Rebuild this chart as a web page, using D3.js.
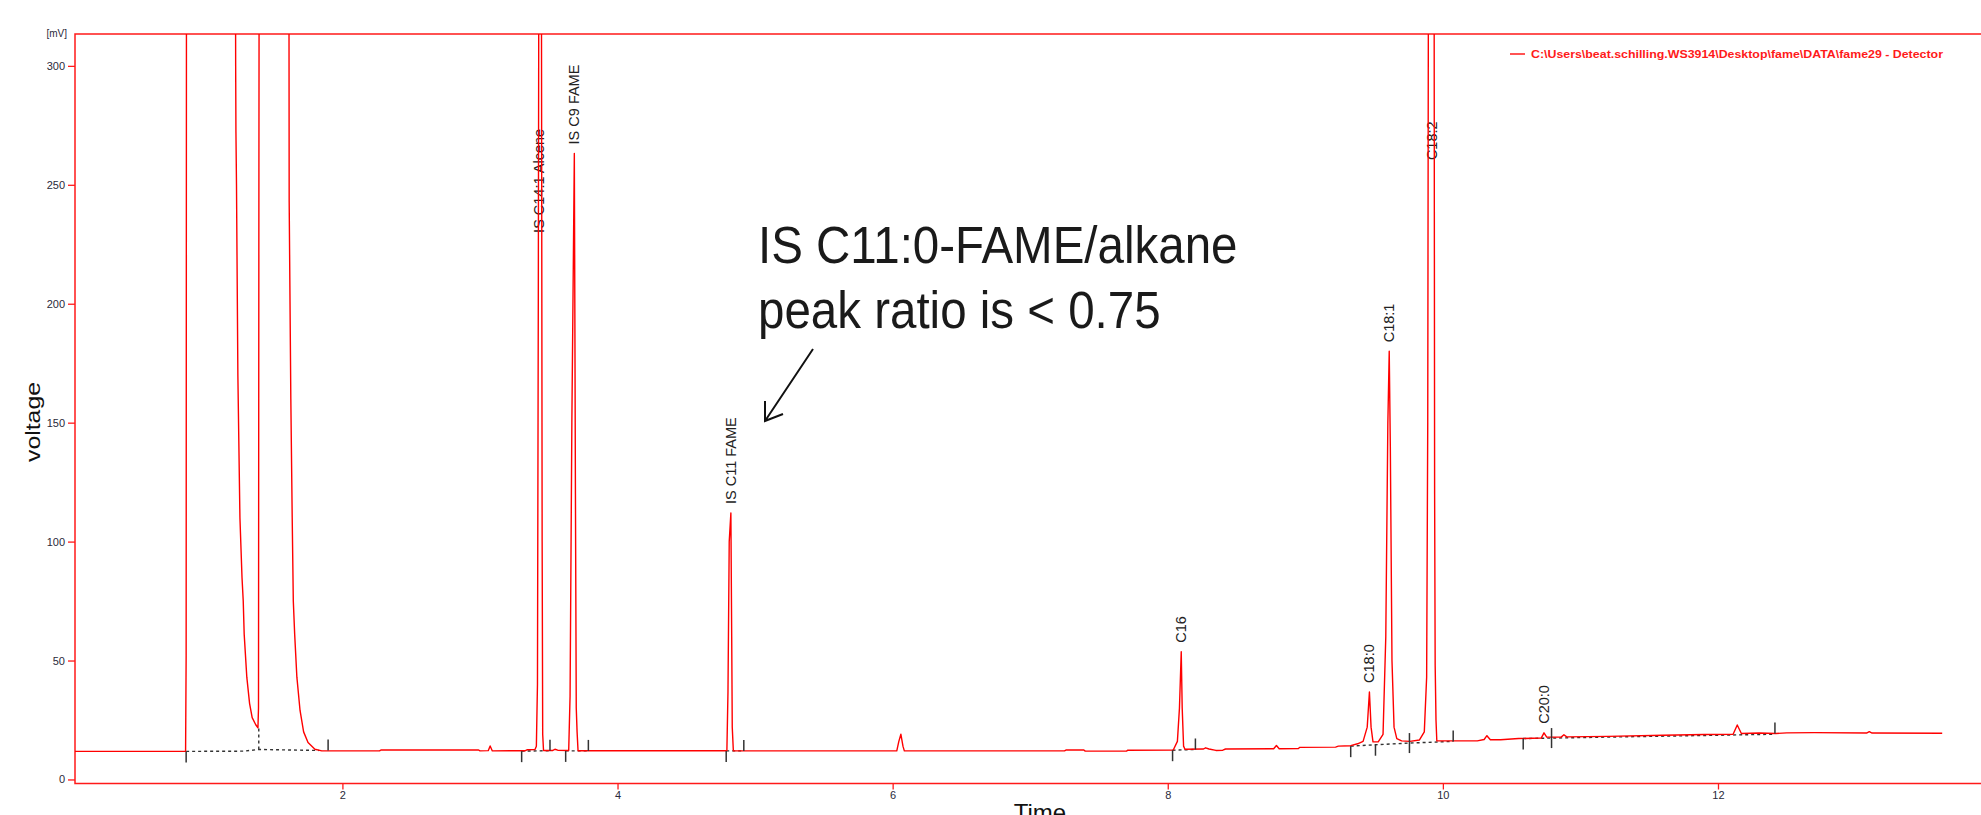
<!DOCTYPE html>
<html>
<head>
<meta charset="utf-8">
<script src="https://cdn.jsdelivr.net/npm/d3@7"></script>
<style>
  body { margin: 0; background: #fff; }
  svg { display: block; font-family: "Liberation Sans", Arial, sans-serif; }
</style>
</head>
<body>
<div id="chart"></div>
<script>
// detector trace (off-scale parts set above the axis top)
const timeMin = [
  0.056, 0.860, 0.864, 0.867, 1.220, 1.224, 1.226, 1.230, 1.240, 1.255,
  1.270, 1.279, 1.286, 1.305, 1.325, 1.344, 1.370, 1.386, 1.390, 1.393,
  1.396, 1.610, 1.613, 1.625, 1.635, 1.643, 1.653, 1.669, 1.692, 1.718,
  1.750, 1.800, 1.850, 2.270, 2.280, 2.990, 3.000, 3.060, 3.074, 3.090,
  3.330, 3.345, 3.400, 3.410, 3.418, 3.424, 3.430, 3.445, 3.452, 3.456,
  3.462, 3.530, 3.545, 3.565, 3.645, 3.655, 3.668, 3.686, 3.694, 3.700,
  3.706, 3.713, 4.795, 4.803, 4.812, 4.824, 4.830, 4.834, 4.842, 6.030,
  6.045, 6.060, 6.075, 6.085, 7.250, 7.260, 7.390, 7.400, 7.700, 7.710,
  8.040, 8.070, 8.085, 8.098, 8.105, 8.115, 8.125, 8.260, 8.275, 8.300,
  8.350, 8.400, 8.420, 8.770, 8.790, 8.810, 8.950, 8.960, 9.220, 9.240,
  9.330, 9.380, 9.420, 9.450, 9.466, 9.478, 9.492, 9.530, 9.565, 9.585,
  9.600, 9.610, 9.618, 9.630, 9.645, 9.665, 9.700, 9.760, 9.830, 9.865,
  9.882, 9.890, 9.897, 9.935, 9.940, 9.944, 9.950, 9.956, 10.250, 10.300,
  10.320, 10.345, 10.420, 10.550, 10.715, 10.735, 10.755, 10.860, 10.880, 10.900,
  11.200, 11.600, 11.900, 12.110, 12.140, 12.170, 12.300, 12.420, 12.500, 12.700,
  13.080, 13.100, 13.120, 13.630
];
const voltageMV = [
  11.8, 11.8, 52, 420, 420, 300, 272, 250, 170, 110,
  85, 75, 61, 43, 32, 26, 23, 21.7, 30, 256,
  420, 420, 243, 160, 110, 75, 61, 43, 29, 20,
  15.5, 12.7, 12.0, 12.0, 12.4, 12.4, 12.0, 12.1, 14.1, 12.0,
  12.1, 12.5, 12.6, 14, 40, 200, 420, 420, 100, 19,
  12.2, 12.2, 12.7, 12.3, 12.2, 35, 150, 263.2, 120, 30,
  20, 12.1, 12.1, 37, 100, 112, 60, 22, 12.0, 12.0,
  16, 19, 14, 12.0, 12.0, 12.4, 12.4, 11.9, 11.9, 12.3,
  12.4, 16, 30, 53.7, 30, 14, 12.7, 12.8, 13.3, 12.8,
  12.2, 12.3, 12.8, 12.9, 14.3, 12.9, 13.0, 13.5, 13.6, 14.0,
  14.2, 15.0, 16.0, 22, 36.8, 22, 15.8, 15.8, 19, 60,
  150, 180, 140, 50, 22, 17.2, 16.2, 16.0, 16.6, 20,
  43, 150, 420, 420, 120, 48, 25, 16.2, 16.2, 16.8,
  18.4, 16.7, 16.7, 17.2, 17.4, 19.6, 17.8, 17.8, 18.8, 17.9,
  18.1, 18.6, 18.9, 19.0, 22.9, 19.3, 19.5, 19.3, 19.6, 19.7,
  19.5, 20.1, 19.5, 19.4
];

// peak names and where the software put them
const peakNames = ["IS C14:1 Alcene", "IS C9 FAME", "IS C11 FAME", "C16", "C18:0", "C18:1", "C18:2", "C20:0"];
const peakTimes = [3.431, 3.686, 4.824, 8.098, 9.466, 9.610, 9.923, 10.735];
const peakLabelMV = [226, 263.2, 112, 53.7, 36.8, 180, 256.6, 19.6];

// integration marks (peak start / peak end / split)
const startMarkTimes = [0.864, 3.303, 3.623, 4.790, 8.035, 9.330, 9.510, 10.584];
const startMarkMV = [11.8, 11.9, 12.0, 12.0, 12.3, 14.0, 14.6, 17.2];
const endMarkTimes = [1.896, 3.509, 3.788, 4.918, 8.201, 10.075, 12.414];
const endMarkMV = [12.2, 12.1, 12.0, 12.0, 12.6, 16.0, 19.3];
const splitMarkTimes = [9.757, 10.790];
const splitMarkMV = [15.3, 17.4];

// dotted integration baselines
const baseSegTimes = [
  [0.864, 1.280, 1.392, 1.830],
  [3.303, 3.509],
  [3.623, 3.788],
  [4.790, 4.918],
  [8.035, 8.201],
  [9.330, 9.510, 9.757, 10.075],
  [10.584, 10.790, 12.414]
];
const baseSegMV = [
  [11.8, 11.9, 12.6, 12.2],
  [11.9, 12.1],
  [12.0, 12.0],
  [12.0, 12.0],
  [12.3, 12.6],
  [14.0, 14.6, 15.3, 16.0],
  [17.2, 17.4, 19.0]
];
const dropLineTime = 1.392;
const dropLineMV = [12.6, 21.7];

const xTicks = [2, 4, 6, 8, 10, 12];
const yTicks = [0, 50, 100, 150, 200, 250, 300];

const legendText = "C:\\Users\\beat.schilling.WS3914\\Desktop\\fame\\DATA\\fame29 - Detector";
const noteLines = ["IS C11:0-FAME/alkane", "peak ratio is < 0.75"];

const width = 1981, height = 815;
const plotLeft = 75, plotTop = 34, plotRight = 1981, plotBottom = 783.5;
const red = "#ff1a1a";

const x = d3.scaleLinear().domain([0.056, 13.912]).range([plotLeft, plotRight]);
const y = d3.scaleLinear().domain([-1.7, 313.4]).range([plotBottom, plotTop]);

const svg = d3.select("#chart").append("svg")
  .attr("width", width)
  .attr("height", height);

svg.append("clipPath").attr("id", "plotClip")
  .append("rect")
  .attr("x", plotLeft).attr("y", plotTop)
  .attr("width", plotRight - plotLeft).attr("height", plotBottom - plotTop);

// axes
const yAxis = svg.append("g")
  .attr("transform", `translate(${plotLeft},0)`)
  .call(d3.axisLeft(y).tickValues(yTicks).tickSize(7).tickPadding(3));
const xAxis = svg.append("g")
  .attr("transform", `translate(0,${plotBottom})`)
  .call(d3.axisBottom(x).tickValues(xTicks).tickSize(6).tickPadding(2));

[yAxis, xAxis].forEach(a => {
  a.select(".domain").remove();
  a.selectAll(".tick line").attr("stroke", red).attr("stroke-width", 1.3);
  a.selectAll(".tick text")
    .attr("fill", "#2a2a3a")
    .style("font-size", "11px")
    .style("font-family", "'Liberation Sans', Arial, sans-serif");
});

// frame
svg.append("path")
  .attr("d", `M${plotRight + 2},${plotTop}H${plotLeft}V${plotBottom}H${plotRight + 2}`)
  .attr("fill", "none")
  .attr("stroke", red)
  .attr("stroke-width", 1.5);

svg.append("text")
  .attr("x", 67).attr("y", 37)
  .attr("text-anchor", "end")
  .attr("fill", "#2a2a3a")
  .style("font-size", "10px")
  .text("[mV]");

// peak labels, drawn under the trace
svg.append("g").selectAll("text")
  .data(peakNames)
  .join("text")
  .attr("transform", (d, i) => `translate(${x(peakTimes[i])},${y(peakLabelMV[i]) - 9}) rotate(-90)`)
  .attr("dy", "0.35em")
  .attr("fill", "#222")
  .style("font-size", "14.5px")
  .text(d => d);

const plot = svg.append("g").attr("clip-path", "url(#plotClip)");

const line = d3.line()
  .x(d => x(d[0]))
  .y(d => y(d[1]));

// dotted baselines
plot.append("g").selectAll("path")
  .data(baseSegTimes.map((ts, i) => ts.map((t, j) => [t, baseSegMV[i][j]])))
  .join("path")
  .attr("d", line)
  .attr("fill", "none")
  .attr("stroke", "#333")
  .attr("stroke-width", 1.4)
  .attr("stroke-dasharray", "3,3");

plot.append("path")
  .attr("d", line([[dropLineTime, dropLineMV[0]], [dropLineTime, dropLineMV[1]]]))
  .attr("stroke", "#333")
  .attr("stroke-width", 1.4)
  .attr("stroke-dasharray", "3,3");

// the trace
plot.append("path")
  .datum(timeMin.map((t, i) => [t, voltageMV[i]]))
  .attr("d", line)
  .attr("fill", "none")
  .attr("stroke", "#ff0000")
  .attr("stroke-width", 1.4)
  .attr("stroke-linejoin", "round");

// integration marks
const marks = plot.append("g")
  .attr("stroke", "#333")
  .attr("stroke-width", 1.5);
startMarkTimes.forEach((t, i) => {
  marks.append("line")
    .attr("x1", x(t)).attr("x2", x(t))
    .attr("y1", y(startMarkMV[i])).attr("y2", y(startMarkMV[i]) + 11);
});
endMarkTimes.forEach((t, i) => {
  marks.append("line")
    .attr("x1", x(t)).attr("x2", x(t))
    .attr("y1", y(endMarkMV[i])).attr("y2", y(endMarkMV[i]) - 11);
});
splitMarkTimes.forEach((t, i) => {
  marks.append("line")
    .attr("x1", x(t)).attr("x2", x(t))
    .attr("y1", y(splitMarkMV[i]) - 10).attr("y2", y(splitMarkMV[i]) + 10);
});

// legend
svg.append("line")
  .attr("x1", 1510).attr("x2", 1525)
  .attr("y1", 54).attr("y2", 54)
  .attr("stroke", red).attr("stroke-width", 1.5);
svg.append("text")
  .attr("x", 1531).attr("y", 58)
  .attr("fill", "#ff1a1a")
  .attr("font-weight", "bold")
  .attr("textLength", 412)
  .attr("lengthAdjust", "spacingAndGlyphs")
  .style("font-size", "11px")
  .text(legendText);

// axis titles
svg.append("text")
  .attr("transform", "translate(40,422) rotate(-90)")
  .attr("text-anchor", "middle")
  .attr("textLength", 80)
  .attr("lengthAdjust", "spacingAndGlyphs")
  .attr("fill", "#111")
  .style("font-size", "20px")
  .text("voltage");

svg.append("text")
  .attr("x", 1040).attr("y", 821)
  .attr("text-anchor", "middle")
  .attr("fill", "#111")
  .style("font-size", "24px")
  .text("Time");

// note with arrow
svg.selectAll("text.note")
  .data(noteLines)
  .join("text")
  .attr("class", "note")
  .attr("transform", (d, i) => `translate(758,${i === 0 ? 263 : 328}) scale(1,1.08)`)
  .attr("fill", "#1a1a1a")
  .style("font-size", "47.5px")
  .text(d => d);

svg.append("path")
  .attr("d", "M813,349L765,421M765,401L765,421L783,414")
  .attr("fill", "none")
  .attr("stroke", "#111")
  .attr("stroke-width", 2);
</script>
</body>
</html>
